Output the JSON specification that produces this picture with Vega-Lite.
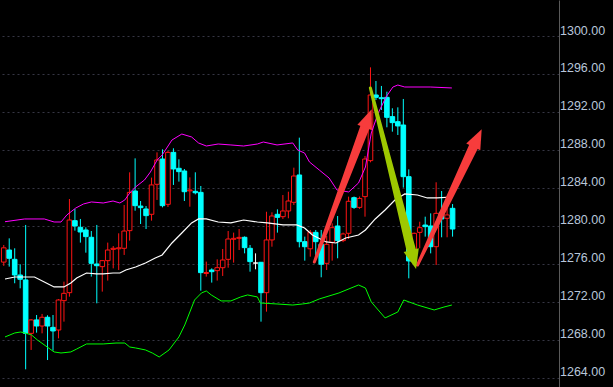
{
  "$schema": "https://vega.github.io/schema/vega-lite/v6.json",
  "width": 559,
  "height": 387,
  "padding": {"left": 0, "top": 0, "right": 54, "bottom": 0},
  "autosize": {"type": "none"},
  "background": "#000000",
  "config": {
    "view": {"stroke": null},
    "axisY": {
      "ticks": false, "domain": true, "domainColor": "#5a5a5a", "domainWidth": 1,
      "grid": true, "gridColor": "#363644", "gridDash": [2, 3], "gridWidth": 1,
      "labelFont": "Liberation Sans", "labelFontSize": 12.5, "labelColor": "#b8c6da", "labelAlign": "left", "labelBaseline": "alphabetic",
      "labelOffset": -2, "labelPadding": 0.5, "labelFlush": false, "labelOverlap": false
    }
  },
  "datasets": {
    "candles": [
      {"i":-1,"o":1276.2,"h":1278.0,"l":1275.8,"c":1277.7},
      {"i":0,"o":1277.47,"h":1278.70,"l":1275.72,"c":1276.60},
      {"i":1,"o":1276.49,"h":1277.65,"l":1273.97,"c":1274.84},
      {"i":2,"o":1274.84,"h":1275.97,"l":1273.44,"c":1274.39},
      {"i":3,"o":1274.32,"h":1280.11,"l":1264.91,"c":1268.70},
      {"i":4,"o":1268.70,"h":1270.2,"l":1266.95,"c":1270.11},
      {"i":5,"o":1270.11,"h":1270.63,"l":1268.77,"c":1269.47},
      {"i":6,"o":1269.47,"h":1270.74,"l":1268.70,"c":1270.39},
      {"i":7,"o":1270.39,"h":1270.6,"l":1265.89,"c":1269.47},
      {"i":8,"o":1269.33,"h":1270.63,"l":1266.88,"c":1268.95},
      {"i":9,"o":1269.05,"h":1272.3,"l":1268.17,"c":1272.21},
      {"i":10,"o":1272.14,"h":1274.14,"l":1269.93,"c":1272.91},
      {"i":11,"o":1272.98,"h":1282.84,"l":1272.56,"c":1280.63},
      {"i":12,"o":1280.56,"h":1281.79,"l":1279.51,"c":1280.00},
      {"i":13,"o":1279.86,"h":1280.74,"l":1278.25,"c":1279.37},
      {"i":14,"o":1279.58,"h":1279.86,"l":1277.19,"c":1278.88},
      {"i":15,"o":1278.81,"h":1279.47,"l":1274.67,"c":1276.07},
      {"i":16,"o":1276.00,"h":1280.11,"l":1271.86,"c":1275.82},
      {"i":17,"o":1275.72,"h":1276.42,"l":1273.09,"c":1276.35},
      {"i":18,"o":1276.35,"h":1278.25,"l":1274.25,"c":1277.47},
      {"i":19,"o":1277.54,"h":1277.89,"l":1275.54,"c":1277.65},
      {"i":20,"o":1277.6,"h":1279.23,"l":1275.37,"c":1277.7},
      {"i":21,"o":1277.65,"h":1282.21,"l":1276.95,"c":1279.47},
      {"i":22,"o":1279.51,"h":1285.65,"l":1278.46,"c":1283.54},
      {"i":23,"o":1283.68,"h":1287.12,"l":1281.61,"c":1282.14},
      {"i":24,"o":1282.10,"h":1282.63,"l":1280.21,"c":1281.93},
      {"i":25,"o":1281.79,"h":1282.10,"l":1279.68,"c":1281.09},
      {"i":26,"o":1281.23,"h":1285.09,"l":1280.56,"c":1284.32},
      {"i":27,"o":1284.39,"h":1287.75,"l":1282.74,"c":1286.95},
      {"i":28,"o":1287.05,"h":1288.07,"l":1281.96,"c":1282.14},
      {"i":29,"o":1282.28,"h":1287.9,"l":1282.0,"c":1287.75},
      {"i":30,"o":1287.75,"h":1288.18,"l":1284.32,"c":1286.00},
      {"i":31,"o":1286.07,"h":1287.02,"l":1284.67,"c":1285.72},
      {"i":32,"o":1285.79,"h":1286.00,"l":1282.63,"c":1283.61},
      {"i":33,"o":1283.70,"h":1285.12,"l":1282.03,"c":1283.79},
      {"i":34,"o":1283.65,"h":1285.65,"l":1283.33,"c":1283.50},
      {"i":35,"o":1283.54,"h":1284.21,"l":1273.19,"c":1275.09},
      {"i":36,"o":1275.00,"h":1276.25,"l":1274.67,"c":1275.10},
      {"i":37,"o":1275.37,"h":1275.54,"l":1274.04,"c":1275.19},
      {"i":38,"o":1275.30,"h":1276.49,"l":1274.25,"c":1275.61},
      {"i":39,"o":1275.61,"h":1277.58,"l":1274.74,"c":1276.42},
      {"i":40,"o":1276.49,"h":1279.47,"l":1275.61,"c":1278.63},
      {"i":41,"o":1278.60,"h":1279.30,"l":1276.14,"c":1278.70},
      {"i":42,"o":1278.70,"h":1279.68,"l":1277.47,"c":1278.80},
      {"i":43,"o":1278.81,"h":1278.90,"l":1277.12,"c":1277.72},
      {"i":44,"o":1277.65,"h":1278.00,"l":1275.19,"c":1276.25},
      {"i":45,"o":1276.10,"h":1277.12,"l":1275.44,"c":1276.10},
      {"i":46,"o":1276.18,"h":1276.20,"l":1269.93,"c":1272.98},
      {"i":47,"o":1272.98,"h":1281.50,"l":1270.98,"c":1278.53},
      {"i":48,"o":1278.53,"h":1281.44,"l":1277.82,"c":1281.05},
      {"i":49,"o":1281.23,"h":1281.75,"l":1279.30,"c":1280.91},
      {"i":50,"o":1280.98,"h":1283.26,"l":1280.74,"c":1281.58},
      {"i":51,"o":1281.58,"h":1283.61,"l":1280.81,"c":1282.63},
      {"i":52,"o":1282.49,"h":1286.14,"l":1282.21,"c":1285.26},
      {"i":53,"o":1285.37,"h":1289.30,"l":1277.75,"c":1278.35},
      {"i":54,"o":1278.35,"h":1278.88,"l":1276.35,"c":1277.82},
      {"i":55,"o":1277.6,"h":1279.58,"l":1276.77,"c":1279.33},
      {"i":56,"o":1279.33,"h":1279.58,"l":1276.42,"c":1278.35},
      {"i":57,"o":1278.07,"h":1279.58,"l":1274.60,"c":1275.97},
      {"i":58,"o":1276.07,"h":1278.95,"l":1275.37,"c":1278.07},
      {"i":59,"o":1278.28,"h":1280.28,"l":1276.35,"c":1279.82},
      {"i":60,"o":1280.00,"h":1281.05,"l":1276.60,"c":1278.46},
      {"i":61,"o":1278.46,"h":1279.30,"l":1278.30,"c":1279.16},
      {"i":62,"o":1279.23,"h":1283.09,"l":1278.63,"c":1282.6},
      {"i":63,"o":1282.98,"h":1283.10,"l":1281.80,"c":1281.96},
      {"i":64,"o":1281.96,"h":1283.10,"l":1281.80,"c":1282.90},
      {"i":65,"o":1283.09,"h":1287.37,"l":1280.98,"c":1287.05},
      {"i":66,"o":1286.88,"h":1296.70,"l":1286.70,"c":1293.79},
      {"i":67,"o":1293.79,"h":1295.26,"l":1293.26,"c":1293.54},
      {"i":68,"o":1293.50,"h":1294.74,"l":1292.21,"c":1293.40},
      {"i":69,"o":1293.54,"h":1294.14,"l":1290.39,"c":1291.44},
      {"i":70,"o":1291.51,"h":1292.39,"l":1289.93,"c":1290.88},
      {"i":71,"o":1290.98,"h":1292.49,"l":1289.58,"c":1290.53},
      {"i":72,"o":1290.63,"h":1293.37,"l":1284.04,"c":1285.19},
      {"i":73,"o":1285.19,"h":1285.96,"l":1274.49,"c":1276.32},
      {"i":74,"o":1276.35,"h":1279.30,"l":1276.10,"c":1279.23},
      {"i":75,"o":1279.33,"h":1280.45,"l":1277.65,"c":1279.82},
      {"i":76,"o":1280.10,"h":1280.98,"l":1278.88,"c":1279.93},
      {"i":77,"o":1280.00,"h":1281.33,"l":1277.12,"c":1277.82},
      {"i":78,"o":1277.82,"h":1284.60,"l":1275.89,"c":1281.33},
      {"i":79,"o":1281.44,"h":1283.68,"l":1278.81,"c":1280.74},
      {"i":80,"o":1280.81,"h":1282.39,"l":1278.81,"c":1281.16},
      {"i":81,"o":1281.86,"h":1282.31,"l":1278.88,"c":1279.68}
    ],
    "bands": [
      {"t":-0.77,"b":"upper","v":1280.45},{"t":2.82,"b":"upper","v":1280.74},{"t":6.41,"b":"upper","v":1280.74},{"t":8.20,"b":"upper","v":1280.42},{"t":9.46,"b":"upper","v":1280.42},{"t":10.53,"b":"upper","v":1281.16},{"t":12.15,"b":"upper","v":1281.89},{"t":13.58,"b":"upper","v":1282.32},{"t":15.02,"b":"upper","v":1282.53},{"t":17.17,"b":"upper","v":1282.42},{"t":18.97,"b":"upper","v":1282.63},{"t":20.22,"b":"upper","v":1282.42},{"t":21.12,"b":"upper","v":1282.74},{"t":22.02,"b":"upper","v":1283.47},{"t":23.09,"b":"upper","v":1284.11},{"t":24.71,"b":"upper","v":1284.84},{"t":25.79,"b":"upper","v":1285.68},{"t":27.04,"b":"upper","v":1286.95},{"t":27.94,"b":"upper","v":1287.47},{"t":29.73,"b":"upper","v":1289.05},{"t":31.53,"b":"upper","v":1289.68},{"t":33.32,"b":"upper","v":1289.37},{"t":34.58,"b":"upper","v":1288.74},{"t":36.01,"b":"upper","v":1288.42},{"t":38.17,"b":"upper","v":1288.63},{"t":40.5,"b":"upper","v":1288.53},{"t":42.83,"b":"upper","v":1288.42},{"t":45.34,"b":"upper","v":1288.63},{"t":46.42,"b":"upper","v":1288.84},{"t":48.93,"b":"upper","v":1288.53},{"t":51.80,"b":"upper","v":1288.74},{"t":52.70,"b":"upper","v":1288.0},{"t":53.96,"b":"upper","v":1287.68},{"t":54.85,"b":"upper","v":1286.74},{"t":56.65,"b":"upper","v":1285.89},{"t":58.44,"b":"upper","v":1285.05},{"t":59.88,"b":"upper","v":1283.79},{"t":62.03,"b":"upper","v":1283.58},{"t":63.82,"b":"upper","v":1284.53},{"t":65.08,"b":"upper","v":1286.21},{"t":66.15,"b":"upper","v":1289.79},{"t":67.41,"b":"upper","v":1291.89},{"t":68.84,"b":"upper","v":1293.58},{"t":70.1,"b":"upper","v":1294.63},{"t":71.0,"b":"upper","v":1294.84},{"t":72.26,"b":"upper","v":1294.63},{"t":76.92,"b":"upper","v":1294.63},{"t":80.87,"b":"upper","v":1294.53},
      {"t":-0.77,"b":"mid","v":1274.42},{"t":1.02,"b":"mid","v":1274.63},{"t":4.61,"b":"mid","v":1274.63},{"t":6.41,"b":"mid","v":1274.11},{"t":8.20,"b":"mid","v":1273.58},{"t":10.0,"b":"mid","v":1273.58},{"t":11.25,"b":"mid","v":1274.0},{"t":12.33,"b":"mid","v":1274.53},{"t":14.12,"b":"mid","v":1275.05},{"t":15.92,"b":"mid","v":1274.95},{"t":17.17,"b":"mid","v":1274.95},{"t":18.97,"b":"mid","v":1275.05},{"t":20.22,"b":"mid","v":1275.05},{"t":21.30,"b":"mid","v":1275.37},{"t":23.09,"b":"mid","v":1275.68},{"t":24.89,"b":"mid","v":1276.11},{"t":26.68,"b":"mid","v":1276.63},{"t":27.94,"b":"mid","v":1276.95},{"t":29.73,"b":"mid","v":1278.21},{"t":31.53,"b":"mid","v":1279.26},{"t":33.32,"b":"mid","v":1280.32},{"t":34.58,"b":"mid","v":1280.74},{"t":36.01,"b":"mid","v":1280.74},{"t":38.17,"b":"mid","v":1280.42},{"t":40.5,"b":"mid","v":1280.32},{"t":42.83,"b":"mid","v":1280.63},{"t":45.34,"b":"mid","v":1280.42},{"t":47.14,"b":"mid","v":1280.32},{"t":50.01,"b":"mid","v":1280.11},{"t":52.52,"b":"mid","v":1280.11},{"t":53.96,"b":"mid","v":1279.79},{"t":55.39,"b":"mid","v":1279.05},{"t":57.91,"b":"mid","v":1278.32},{"t":59.70,"b":"mid","v":1278.21},{"t":61.49,"b":"mid","v":1278.74},{"t":63.82,"b":"mid","v":1279.05},{"t":65.08,"b":"mid","v":1279.58},{"t":66.87,"b":"mid","v":1280.74},{"t":68.67,"b":"mid","v":1281.68},{"t":70.46,"b":"mid","v":1282.74},{"t":72.26,"b":"mid","v":1283.37},{"t":74.59,"b":"mid","v":1283.26},{"t":76.39,"b":"mid","v":1282.95},{"t":78.18,"b":"mid","v":1282.95},{"t":80.87,"b":"mid","v":1283.05},
      {"t":-0.77,"b":"lower","v":1268.32},{"t":1.02,"b":"lower","v":1268.74},{"t":2.10,"b":"lower","v":1268.84},{"t":2.82,"b":"lower","v":1268.74},{"t":4.07,"b":"lower","v":1268.53},{"t":5.15,"b":"lower","v":1268.0},{"t":6.94,"b":"lower","v":1267.26},{"t":8.20,"b":"lower","v":1266.74},{"t":9.46,"b":"lower","v":1266.63},{"t":11.25,"b":"lower","v":1266.74},{"t":12.33,"b":"lower","v":1267.05},{"t":14.12,"b":"lower","v":1267.58},{"t":17.17,"b":"lower","v":1267.58},{"t":19.51,"b":"lower","v":1267.68},{"t":21.12,"b":"lower","v":1267.68},{"t":22.02,"b":"lower","v":1267.26},{"t":23.09,"b":"lower","v":1267.16},{"t":24.89,"b":"lower","v":1266.95},{"t":26.14,"b":"lower","v":1266.63},{"t":27.40,"b":"lower","v":1266.21},{"t":29.2,"b":"lower","v":1266.95},{"t":31.0,"b":"lower","v":1268.32},{"t":32.07,"b":"lower","v":1269.58},{"t":33.86,"b":"lower","v":1272.21},{"t":35.12,"b":"lower","v":1272.95},{"t":36.01,"b":"lower","v":1273.16},{"t":36.91,"b":"lower","v":1272.74},{"t":38.70,"b":"lower","v":1272.11},{"t":40.5,"b":"lower","v":1272.11},{"t":42.29,"b":"lower","v":1272.53},{"t":43.55,"b":"lower","v":1272.74},{"t":45.34,"b":"lower","v":1272.53},{"t":45.88,"b":"lower","v":1271.89},{"t":48.93,"b":"lower","v":1271.79},{"t":51.80,"b":"lower","v":1271.68},{"t":53.60,"b":"lower","v":1271.79},{"t":54.85,"b":"lower","v":1271.89},{"t":56.65,"b":"lower","v":1272.32},{"t":60.24,"b":"lower","v":1272.95},{"t":63.82,"b":"lower","v":1273.79},{"t":65.08,"b":"lower","v":1273.47},{"t":66.15,"b":"lower","v":1272.0},{"t":68.67,"b":"lower","v":1270.32},{"t":71.0,"b":"lower","v":1270.95},{"t":72.08,"b":"lower","v":1272.21},{"t":74.59,"b":"lower","v":1271.68},{"t":77.64,"b":"lower","v":1271.16},{"t":79.43,"b":"lower","v":1271.47},{"t":80.87,"b":"lower","v":1271.68}
    ],
    "shafts": [
      {"a":"r1","t":55.75,"v":1276.21,"e":"tail"},{"a":"r1","t":65.13,"v":1290.63,"e":"head"},
      {"a":"g","t":65.98,"v":1294.53,"e":"tail"},{"a":"g","t":73.57,"v":1277.18,"e":"head"},
      {"a":"r2","t":74.59,"v":1275.89,"e":"tail"},{"a":"r2","t":85.02,"v":1288.59,"e":"head"}
    ],
    "heads": [
      {"a":"r1","t":65.58,"v":1291.33},
      {"a":"g","t":73.89,"v":1276.46},
      {"a":"r2","t":85.55,"v":1289.25}
    ]
  },
  "layer": [
    {
      "data": {"name": "candles"},
      "mark": {"type": "rule", "strokeWidth": 1, "clip": true},
      "encoding": {
        "x": {"field": "i", "type": "quantitative", "scale": {"domain": [-0.772, 99.53], "nice": false, "zero": false}, "axis": null},
        "y": {"field": "l", "type": "quantitative", "scale": {"domain": [1263.05, 1303.79], "nice": false, "zero": false},
          "title": null, "axis": {"orient": "right", "values": [1264,1268,1272,1276,1280,1284,1288,1292,1296,1300], "format": ".2f"}},
        "y2": {"field": "h"},
        "color": {"condition": [{"test": "datum.c > datum.o", "value": "#ff1414"}, {"test": "datum.c == datum.o", "value": "#ffffff"}], "value": "#00ffff"}
      }
    },
    {
      "data": {"name": "candles"},
      "mark": {"type": "bar", "size": 4.6, "strokeWidth": 1, "clip": true},
      "encoding": {
        "x": {"field": "i", "type": "quantitative", "axis": null},
        "y": {"field": "o", "type": "quantitative", "title": null, "axis": {"orient": "right", "values": [1264,1268,1272,1276,1280,1284,1288,1292,1296,1300], "format": ".2f"}},
        "y2": {"field": "c"},
        "fill": {"condition": [{"test": "datum.c > datum.o", "value": "#000000"}, {"test": "datum.c == datum.o", "value": "#ffffff"}], "value": "#00ffff"},
        "stroke": {"condition": [{"test": "datum.c > datum.o", "value": "#ff1414"}, {"test": "datum.c == datum.o", "value": "#ffffff"}], "value": "#00ffff"}
      }
    },
    {
      "data": {"name": "bands"},
      "transform": [{"filter": "datum.b == 'upper'"}],
      "mark": {"type": "line", "color": "#ff00ff", "strokeWidth": 1, "clip": true},
      "encoding": {"x": {"field": "t", "type": "quantitative", "axis": null}, "y": {"field": "v", "type": "quantitative", "title": null, "axis": {"orient": "right", "values": [1264,1268,1272,1276,1280,1284,1288,1292,1296,1300], "format": ".2f"}}}
    },
    {
      "data": {"name": "bands"},
      "transform": [{"filter": "datum.b == 'mid'"}],
      "mark": {"type": "line", "color": "#ffffff", "strokeWidth": 1.2, "clip": true},
      "encoding": {"x": {"field": "t", "type": "quantitative", "axis": null}, "y": {"field": "v", "type": "quantitative", "title": null, "axis": {"orient": "right", "values": [1264,1268,1272,1276,1280,1284,1288,1292,1296,1300], "format": ".2f"}}}
    },
    {
      "data": {"name": "bands"},
      "transform": [{"filter": "datum.b == 'lower'"}],
      "mark": {"type": "line", "color": "#00ff00", "strokeWidth": 1, "clip": true},
      "encoding": {"x": {"field": "t", "type": "quantitative", "axis": null}, "y": {"field": "v", "type": "quantitative", "title": null, "axis": {"orient": "right", "values": [1264,1268,1272,1276,1280,1284,1288,1292,1296,1300], "format": ".2f"}}}
    },
    {
      "data": {"name": "shafts"},
      "mark": {"type": "trail", "clip": true},
      "encoding": {
        "x": {"field": "t", "type": "quantitative", "axis": null},
        "y": {"field": "v", "type": "quantitative", "title": null, "axis": {"orient": "right", "values": [1264,1268,1272,1276,1280,1284,1288,1292,1296,1300], "format": ".2f"}},
        "detail": {"field": "a"},
        "size": {"field": "e", "type": "nominal", "scale": {"domain": ["tail", "head"], "range": [3, 9.5]}, "legend": null},
        "color": {"condition": {"test": "datum.a == 'g'", "value": "#9ec800"}, "value": "#f73c3c"}
      }
    },
    {
      "data": {"name": "heads"},
      "transform": [{"filter": "datum.a == 'r1'"}],
      "mark": {"type": "point", "shape": "M0,-1L0.8,1L-0.8,1Z", "filled": true, "opacity": 1, "size": 380, "angle": 21, "color": "#f73c3c"},
      "encoding": {"x": {"field": "t", "type": "quantitative", "axis": null}, "y": {"field": "v", "type": "quantitative", "title": null, "axis": {"orient": "right", "values": [1264,1268,1272,1276,1280,1284,1288,1292,1296,1300], "format": ".2f"}}}
    },
    {
      "data": {"name": "heads"},
      "transform": [{"filter": "datum.a == 'g'"}],
      "mark": {"type": "point", "shape": "M0,-1L0.8,1L-0.8,1Z", "filled": true, "opacity": 1, "size": 380, "angle": 165.6, "color": "#9ec800"},
      "encoding": {"x": {"field": "t", "type": "quantitative", "axis": null}, "y": {"field": "v", "type": "quantitative", "title": null, "axis": {"orient": "right", "values": [1264,1268,1272,1276,1280,1284,1288,1292,1296,1300], "format": ".2f"}}}
    },
    {
      "data": {"name": "heads"},
      "transform": [{"filter": "datum.a == 'r2'"}],
      "mark": {"type": "point", "shape": "M0,-1L0.8,1L-0.8,1Z", "filled": true, "opacity": 1, "size": 380, "angle": 25.7, "color": "#f73c3c"},
      "encoding": {"x": {"field": "t", "type": "quantitative", "axis": null}, "y": {"field": "v", "type": "quantitative", "title": null, "axis": {"orient": "right", "values": [1264,1268,1272,1276,1280,1284,1288,1292,1296,1300], "format": ".2f"}}}
    }
  ]
}
